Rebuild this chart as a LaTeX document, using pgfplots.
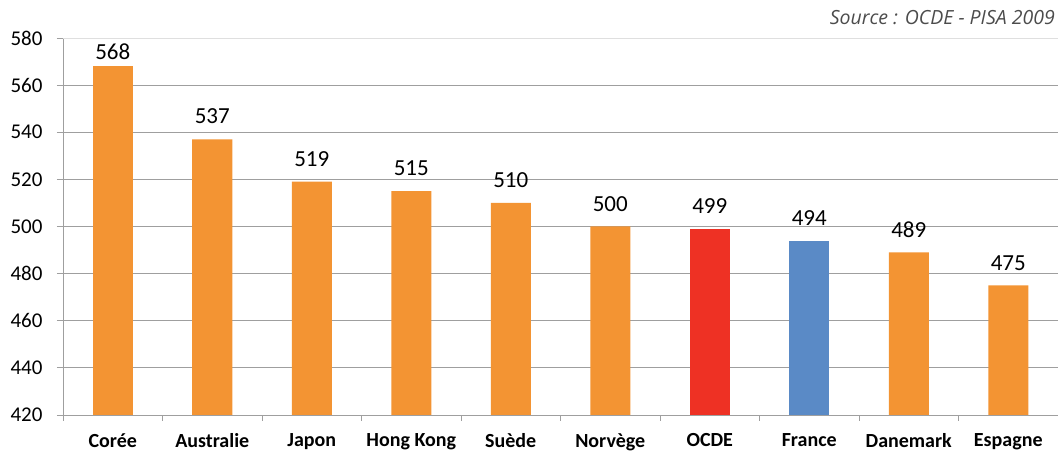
\documentclass[border=0pt]{standalone}
\usepackage{pgfplots}
\pgfplotsset{compat=1.18}
\usepackage{fontspec}
\setmainfont{Carlito}
\newfontfamily\srcfont{Open Sans}
\definecolor{orng}{HTML}{F39433}
\definecolor{rouge}{HTML}{EE3124}
\definecolor{bleu}{HTML}{5A8AC6}
\begin{document}
\begin{tikzpicture}
\begin{axis}[
  at={(0,0)}, anchor=south west, scale only axis,
  width=995pt, height=377pt,
  xmin=-0.5, xmax=9.5, ymin=420, ymax=580,
  ybar, bar width=40pt,
  axis x line*=bottom, axis y line*=left,
  axis line style={draw=gray!75, -},
  tick align=outside,
  major tick length=6pt,
  tick style={draw=gray!75, line width=0.8pt},
  xtick={-0.5,0.5,...,9.5},
  x tick label as interval,
  xticklabels={Corée,Australie,Japon,Hong Kong,Suède,Norvège,OCDE,France,Danemark,Espagne},
  xticklabel style={font=\bfseries\fontsize{20}{20}\selectfont, text=black, yshift=-9pt},
  ytick={420,440,...,560},
  extra y ticks={580},
  extra y tick style={grid style={draw=gray!25, line width=0.8pt}},
  ymajorgrids,
  grid style={draw=gray!75, line width=0.8pt},
  /pgf/number format/assume math mode=true,
  yticklabel style={font=\fontsize{21}{21}\selectfont, text=black, xshift=-11pt},
  nodes near coords,
  nodes near coords style={font=\fontsize{23}{23}\selectfont, text=black, anchor=south, inner sep=3pt, yshift=12pt},
]
\addplot[fill=orng, draw=none, bar shift=0pt, nodes near coords style={yshift=-9pt}] coordinates {(0,568)};
\addplot[fill=orng, draw=none, bar shift=0pt] coordinates {(1,537) (2,519) (3,515) (4,510) (5,500) (8,489) (9,475)};
\addplot[fill=rouge, draw=none, bar shift=0pt] coordinates {(6,499)};
\addplot[fill=bleu, draw=none, bar shift=0pt] coordinates {(7,494)};
\end{axis}
\node[anchor=east, font=\srcfont\itshape\fontsize{19.5}{19.5}\selectfont, text=black!70, inner sep=0pt] at (992pt,397pt) {Source : OCDE - PISA 2009};
\pgfresetboundingbox
\path[use as bounding box] (-63pt,-37pt) rectangle (995pt,415pt);
\end{tikzpicture}
\end{document}
